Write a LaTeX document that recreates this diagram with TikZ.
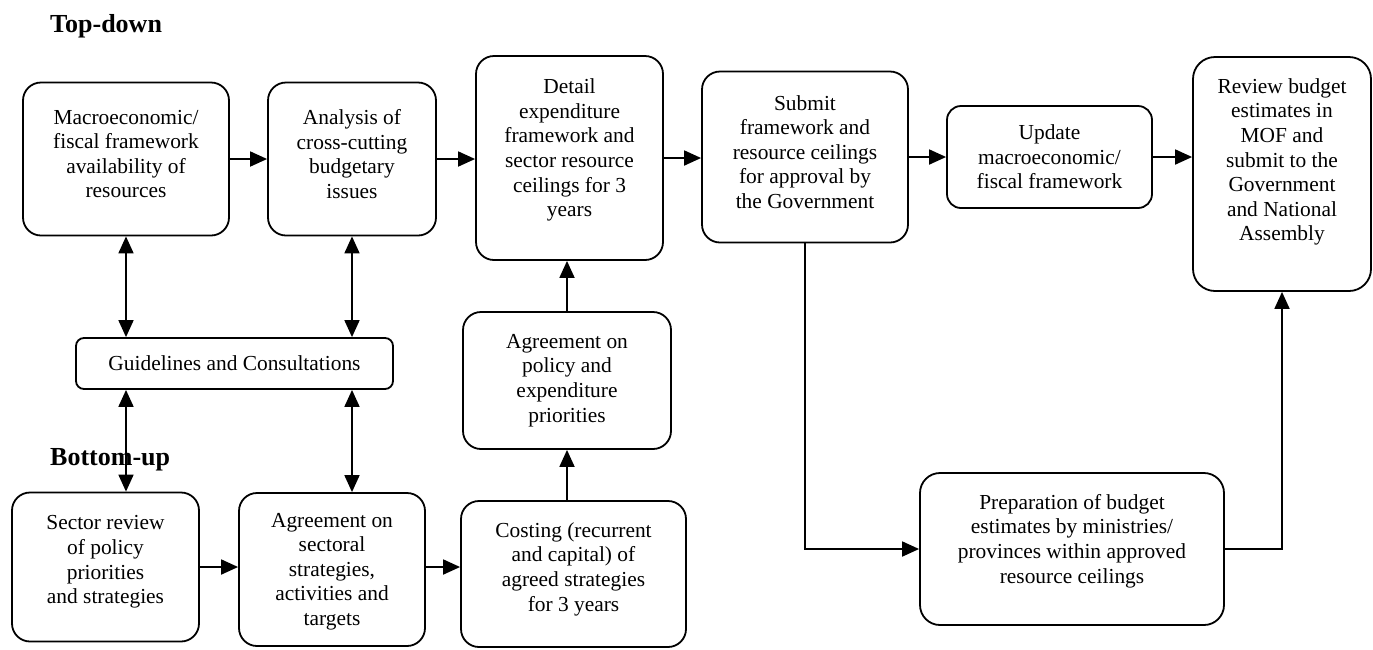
\documentclass[tikz,border=0pt]{standalone}
\usepackage{fontspec}
\setmainfont{Liberation Serif}
\usetikzlibrary{arrows.meta,calc}
\begin{document}
\begin{tikzpicture}[x=1pt,y=-1pt,
  stage/.style={draw, line width=1.8pt, rounded corners=18pt, inner sep=0pt},
  txt/.style={align=center, font=\fontsize{21.4}{24.6}\selectfont, inner sep=0pt},
  flow/.style={line width=1.8pt, -{Triangle[length=17pt,width=15pt]}},
  both/.style={line width=1.8pt, {Triangle[length=17pt,width=15pt]}-{Triangle[length=17pt,width=15pt]}},
  heading/.style={font=\fontsize{26}{30}\selectfont\bfseries, inner sep=0pt, anchor=base west}]

\useasboundingbox (0,0) rectangle (1373,649);

% headings
\node[heading] (td) at (50,32) {Top-down};
\node[heading] (bu) at (50,465) {Bottom-up};

% top-down row
\node[stage, minimum width=206pt, minimum height=153pt] (A) at (126,159) {};
\node[txt, yshift=5pt] (At) at (A.center) {Macroeconomic/\\fiscal framework\\availability of\\resources};

\node[stage, minimum width=168pt, minimum height=153pt] (B) at (352,159) {};
\node[txt, yshift=5pt] (Bt) at (B.center) {Analysis of\\cross-cutting\\budgetary\\issues};

\node[stage, minimum width=187pt, minimum height=204pt] (C) at (569.5,158) {};
\node[txt, yshift=8pt] (Ct) at (C.center) {Detail\\expenditure\\framework and\\sector resource\\ceilings for 3\\years};

\node[stage, minimum width=206pt, minimum height=171pt] (D) at (805,157) {};
\node[txt, yshift=5pt] (Dt) at (D.center) {Submit\\framework and\\resource ceilings\\for approval by\\the Government};

\node[stage, rounded corners=14pt, minimum width=205pt, minimum height=102pt] (E) at (1049.5,157) {};
\node[txt] (Et) at (E.center) {Update\\macroeconomic/\\fiscal framework};

\node[stage, rounded corners=22pt, minimum width=178pt, minimum height=234pt] (F) at (1282,174) {};
\node[txt, yshift=12pt] (Ft) at (F.center) {Review budget\\estimates in\\MOF and\\submit to the\\Government\\and National\\Assembly};

% guidelines
\node[stage, rounded corners=8pt, minimum width=317pt, minimum height=51pt] (G) at (234.5,363.5) {};
\node[txt] (Gt) at (G.center) {Guidelines and Consultations};

% policy agreement
\node[stage, minimum width=208pt, minimum height=137pt] (P) at (567,380.5) {};
\node[txt] (Pt) at (P.center) {Agreement on\\policy and\\expenditure\\priorities};

% bottom-up row
\node[stage, minimum width=187pt, minimum height=149pt] (S) at (105.5,567) {};
\node[txt, yshift=5pt] (St) at (S.center) {Sector review\\of policy\\priorities\\and strategies};

\node[stage, minimum width=186pt, minimum height=153pt] (AS) at (332,569.5) {};
\node[txt, yshift=-2pt] (ASt) at (AS.center) {Agreement on\\sectoral\\strategies,\\activities and\\targets};

\node[stage, minimum width=225pt, minimum height=146pt] (K) at (573.5,574) {};
\node[txt, yshift=5pt] (Kt) at (K.center) {Costing (recurrent\\and capital) of\\agreed strategies\\for 3 years};

\node[stage, rounded corners=20pt, minimum width=304pt, minimum height=152pt] (R) at (1072,549) {};
\node[txt, yshift=8pt] (Rt) at (R.center) {Preparation of budget\\estimates by ministries/\\provinces within approved\\resource ceilings};

% connectors along the top
\draw[flow] (A.east) -- (A.east -| B.west);
\draw[flow] (B.east) -- (B.east -| C.west);
\draw[flow] (C.east) -- (C.east -| D.west);
\draw[flow] (E.west -| D.east) -- (E.west);
\draw[flow] (E.east) -- (E.east -| F.west);

% two-way links through the guidelines
\draw[both] (A.south) -- (A.south |- G.north);
\draw[both] (B.south) -- (B.south |- G.north);
\draw[both] (A.south |- G.south) -- (A.south |- S.north);
\draw[both] (B.south |- G.south) -- (B.south |- AS.north);

% bottom-up chain
\draw[flow] (S.east) -- (S.east -| AS.west);
\draw[flow] (S.east -| AS.east) -- (S.east -| K.west);
\draw[flow] (K.north -| P.south) -- (P.south);
\draw[flow] (P.north) -- (P.north |- C.south);

% approval and preparation
\draw[flow] (D.south) |- (R.west);
\draw[flow] (R.east) -| (F.south);
\end{tikzpicture}
\end{document}
